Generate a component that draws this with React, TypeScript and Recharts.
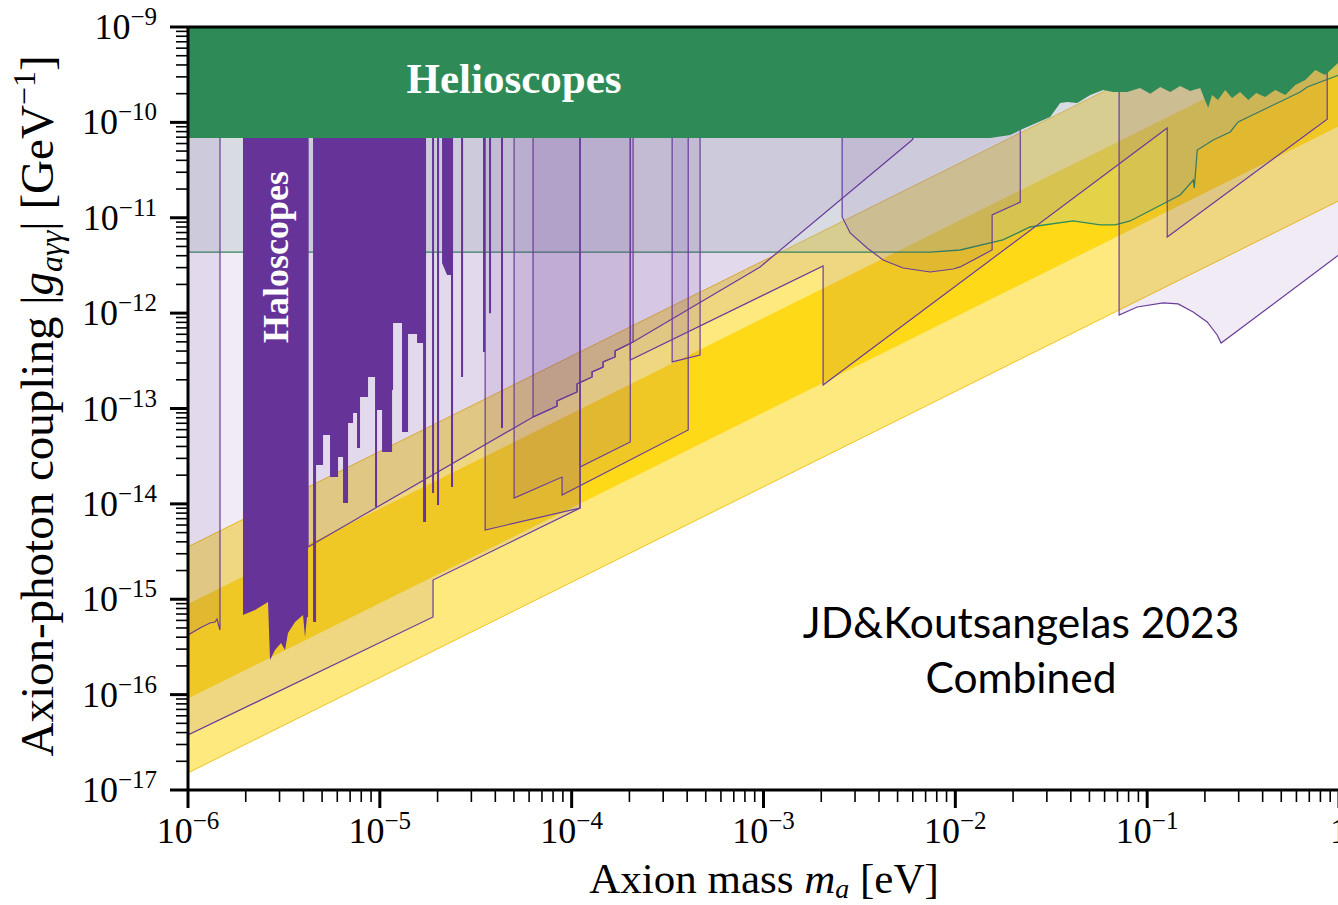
import React from 'react';
import { ComposedChart, Area, XAxis, YAxis, ReferenceLine } from 'recharts';

// axion mass m [eV] / coupling g [GeV^-1]
const TOP = 1e-9;
const GAP = 8e-11; // just under the helioscope fill, hidden

// QCD axion bands, straight lines of slope 1 in log-log (ends at 1e-6 eV and 1 eV)
const bandMass = [1e-6, 1];
const outerBandLow = [1.51e-17, 1.51e-11];
const outerBandHigh = [3.55e-15, 3.55e-9];
const innerBandLow = [9.1e-17, 9.1e-11];
const innerBandHigh = [8.9e-16, 8.9e-10];

// helioscope lower edge
const helioscopeEdge: [number, number][] = [
    [1e-6, 6.85e-11], [1.52e-2, 6.85e-11], [1.93e-2, 7.38e-11], [2.18e-2, 8.3e-11],
    [3.12e-2, 1.14e-10], [3.52e-2, 1.6e-10], [3.83e-2, 1.64e-10], [4.32e-2, 1.6e-10],
    [5.05e-2, 1.94e-10], [5.9e-2, 2.18e-10], [6.65e-2, 2.08e-10], [7.87e-2, 2.08e-10],
    [9.18e-2, 2.29e-10], [0.1038, 1.99e-10], [0.117, 2.35e-10], [0.132, 2.08e-10],
    [0.1486, 2.4e-10], [0.1675, 2.13e-10], [0.189, 2.29e-10], [0.2, 1.72e-10],
    [0.208, 1.42e-10], [0.218, 1.94e-10], [0.234, 1.72e-10], [0.255, 2.18e-10],
    [0.277, 1.8e-10], [0.305, 2.08e-10], [0.337, 1.72e-10], [0.37, 2.03e-10],
    [0.412, 1.85e-10], [0.465, 2.18e-10], [0.525, 1.94e-10], [0.592, 2.47e-10],
    [0.667, 2.78e-10], [0.752, 3.54e-10], [0.847, 3.14e-10], [1, 4.3e-10],
];

// stellar (green line) bound, grey above it
const stellarEdge: [number, number][] = [
    [1e-6, 4.37e-12], [7.4e-3, 4.37e-12], [1.06e-2, 4.59e-12], [1.77e-2, 5.85e-12],
    [2.45e-2, 8.0e-12], [4.11e-2, 9.25e-12], [5.69e-2, 8.4e-12], [6.81e-2, 8.4e-12],
    [8.15e-2, 9.25e-12], [0.1486, 1.73e-11], [0.174, 2.49e-11], [0.176, 2.05e-11],
    [0.1825, 5.13e-11], [0.221, 6.53e-11], [0.271, 7.93e-11], [0.298, 1.01e-10],
    [0.628, 2.08e-10], [0.683, 2.35e-10], [1, 3.14e-10],
];

// haloscope exclusions (dark purple), lower edge
const haloscopeEdge: [number, number][] = [
    [1.935e-6, GAP], [1.935e-6, 6.84e-16], [2.235e-6, 7.71e-16], [2.613e-6, 9.35e-16],
    [2.676e-6, 2.31e-16], [2.842e-6, 2.94e-16], [3.054e-6, 3.48e-16], [3.204e-6, 2.94e-16],
    [3.322e-6, 4.43e-16], [3.613e-6, 5.77e-16], [3.977e-6, 6.84e-16], [4.074e-6, 4.02e-16],
    [4.173e-6, 6.52e-16], [4.225e-6, 6.52e-16], [4.225e-6, GAP],
    [4.486e-6, GAP], [4.486e-6, 5.77e-16], [4.651e-6, 5.77e-16], [4.651e-6, 2.56e-14],
    [5.058e-6, 2.56e-14], [5.058e-6, 5.27e-14], [5.5e-6, 5.27e-14], [5.5e-6, 1.91e-14],
    [6.056e-6, 1.91e-14], [6.056e-6, 3.1e-14], [6.43e-6, 3.1e-14], [6.43e-6, 1.02e-14],
    [6.828e-6, 1.02e-14], [6.828e-6, 7.05e-14], [7.25e-6, 7.05e-14], [7.25e-6, 8.97e-14],
    [7.606e-6, 8.97e-14], [7.606e-6, 3.85e-14], [7.883e-6, 3.85e-14], [7.883e-6, 1.32e-13],
    [8.679e-6, 1.32e-13], [8.679e-6, 2.14e-13], [9.441e-6, 2.14e-13], [9.441e-6, 9.27e-15],
    [9.67e-6, 9.27e-15], [9.67e-6, 9.64e-14], [1.027e-5, 9.64e-14], [1.027e-5, 3.5e-14],
    [1.158e-5, 3.5e-14], [1.158e-5, 1.56e-13], [1.172e-5, 1.56e-13], [1.172e-5, 7.87e-13],
    [1.305e-5, 7.87e-13], [1.305e-5, 5.68e-14], [1.403e-5, 5.68e-14], [1.403e-5, 6.04e-13],
    [1.563e-5, 6.04e-13], [1.563e-5, 4.86e-13], [1.68e-5, 4.86e-13], [1.68e-5, 6.46e-15],
    [1.741e-5, 6.46e-15], [1.741e-5, GAP],
    [1.872e-5, GAP], [1.872e-5, 1.3e-14], [1.917e-5, 1.3e-14], [1.917e-5, GAP],
    [1.987e-5, GAP], [1.987e-5, 9.73e-15], [2.036e-5, 9.73e-15], [2.036e-5, GAP],
    [2.11e-5, GAP], [2.11e-5, 3.36e-12], [2.241e-5, 2.51e-12], [2.35e-5, 2.51e-12],
    [2.35e-5, 1.5e-14], [2.408e-5, 1.5e-14], [2.408e-5, GAP],
    [2.651e-5, GAP], [2.651e-5, 2.14e-13], [2.716e-5, 2.14e-13], [2.716e-5, GAP],
    [3.451e-5, GAP], [3.451e-5, 3.91e-13], [3.54e-5, 3.91e-13], [3.54e-5, GAP],
    [3.709e-5, GAP], [3.709e-5, 1e-12], [3.8e-5, 1e-12], [3.8e-5, GAP],
    [4.283e-5, GAP], [4.283e-5, 6.25e-14], [4.387e-5, 6.25e-14], [4.387e-5, GAP],
];

// projected sensitivities (light purple, outlined), lower edges
const projStrip: [number, number][] = [
    [1e-6, 4.22e-16], [1.155e-6, 4.99e-16], [1.302e-6, 5.64e-16], [1.383e-6, 5.77e-16],
    [1.416e-6, 6.21e-16], [1.434e-6, 5.64e-16], [1.468e-6, 4.76e-16], [1.468e-6, GAP],
];
const projLong: [number, number][] = [
    [1e-6, 3.77e-17], [1.894e-5, 6.52e-16], [1.894e-5, 1.59e-15], [1.106e-4, 9.05e-15], [1.106e-4, GAP],
];
const stairs: [number, number][] = [
    [6.29e-5, 8.15e-14], [8.39e-5, 1.06e-13], [8.39e-5, 1.2e-13], [1.067e-4, 1.49e-13],
    [1.067e-4, 1.81e-13], [1.278e-4, 2.14e-13], [1.278e-4, 2.42e-13], [1.458e-4, 2.72e-13],
    [1.458e-4, 3.08e-13], [1.684e-4, 3.47e-13], [1.684e-4, 4.01e-13], [2.09e-4, 4.98e-13],
];
const projWide: [number, number][] = [
    [4.225e-6, GAP], [4.225e-6, 3.53e-15], ...stairs,
    [9.6e-4, 3.05e-12], [5.95e-3, 6.53e-11], [6.3e-3, GAP],
];
const projStairBox: [number, number][] = [[6.29e-5, GAP], ...stairs, [2.09e-4, GAP]];
const projBoxE: [number, number][] = [
    [5.01e-5, GAP], [5.01e-5, 1.15e-14], [8.91e-5, 1.91e-14], [8.91e-5, 1.24e-14], [4.05e-4, 5.95e-14], [4.05e-4, GAP],
];
const projBoxF: [number, number][] = [[3.54e-5, GAP], [3.54e-5, 5.32e-15], [1.106e-4, 9.05e-15], [1.106e-4, GAP]];
const projBoxG: [number, number][] = [[1.106e-4, GAP], [1.106e-4, 2.44e-14], [2.02e-4, 4.46e-14], [2.02e-4, GAP]];
const projBoxI: [number, number][] = [[3.34e-4, GAP], [3.34e-4, 3.08e-13], [4.67e-4, 3.64e-13], [4.67e-4, GAP]];
const projSaw: [number, number][] = [
    [2.02e-4, GAP], [2.02e-4, 3.23e-13], [2.045e-3, 3.12e-12], [2.045e-3, 1.76e-13],
    [0.1272, 8.73e-11], [0.1272, 6.28e-12], [0.868, 1.08e-10], [0.868, 3.5e-10],
];
const projArc: [number, number][] = [
    [2.57e-3, GAP], [2.57e-3, 1.02e-11], [2.83e-3, 6.92e-12], [3.47e-3, 4.82e-12], [4.2e-3, 3.61e-12],
    [5.34e-3, 2.97e-12], [7.39e-3, 2.7e-12], [9.74e-3, 2.9e-12], [1.06e-2, 3.05e-12],
    [1.555e-2, 4.59e-12], [1.555e-2, 1.07e-11], [2.18e-2, 1.46e-11], [2.18e-2, 1.2e-10],
];
const projHigh: [number, number][] = [
    [7.14e-2, 3e-10], [7.14e-2, 9.55e-13], [8.87e-2, 1.16e-12], [0.1211, 1.28e-12], [0.145, 1.25e-12],
    [0.1737, 1.03e-12], [0.2055, 8.07e-13], [0.2317, 5.9e-13], [0.243, 4.86e-13], [1, 4.1e-12],
];

const projections = [projLong, projStrip, projWide, projStairBox, projBoxF, projBoxE, projBoxG, projBoxI, projSaw, projArc, projHigh];

const xDecades = [-6, -5, -4, -3, -2, -1];
const yDecades = [-17, -16, -15, -14, -13, -12, -11, -10];
const minorSteps = [1, 2, 3, 4, 5, 6, 7, 8, 9];
const xTicks = [...xDecades.flatMap((d) => minorSteps.map((k) => k * 10 ** d)), 1];
const yTicks = [...yDecades.flatMap((d) => minorSteps.map((k) => k * 10 ** d)), 1e-9];

const band = (lo: number[], hi: number[]) => bandMass.map((m, i) => ({ m, g: [lo[i], hi[i]] }));
const toTop = (edge: [number, number][]) => edge.map(([m, g]) => ({ m, g: [g, TOP] }));

const SERIF = '"Liberation Serif", "Times New Roman", serif';
const PURPLE = '#6a3d9a';

function XTick(props: any) {
    const { x, y, payload } = props;
    const e = Math.round(Math.log10(payload.value));
    const major = Math.abs(Math.log10(payload.value) - e) < 1e-6;
    return (
        <g>
            <line x1={x} x2={x} y1={y} y2={y + (major ? 18 : 12)} stroke="#000" strokeWidth={major ? 3 : 1.6} />
            {major && (
                <text x={x} y={y + 53} textAnchor="middle" fontFamily={SERIF} fontSize={36} fill="#000">
                    {e === 0 ? '1' : (
                        <>
                            10<tspan dy={-14} fontSize={25}>{'\u2212' + -e}</tspan>
                        </>
                    )}
                </text>
            )}
        </g>
    );
}

function YTick(props: any) {
    const { x, y, payload } = props;
    const e = Math.round(Math.log10(payload.value));
    const major = Math.abs(Math.log10(payload.value) - e) < 1e-6;
    return (
        <g>
            <line x1={x - (major ? 18 : 12)} x2={x} y1={y} y2={y} stroke="#000" strokeWidth={major ? 3 : 1.6} />
            {major && (
                <text x={x - 31} y={y + 12} textAnchor="end" fontFamily={SERIF} fontSize={36} fill="#000">
                    10<tspan dy={-14} fontSize={25}>{'\u2212' + -e}</tspan>
                </text>
            )}
        </g>
    );
}

export default function App() {
    return (
        <div style={{ position: 'absolute', left: 0, top: 0, width: 1338, height: 905, overflow: 'hidden', background: '#fff' }}>
            <ComposedChart width={1400} height={905} margin={{ top: 27, right: 61, bottom: 0, left: 0 }}>
                <XAxis
                    dataKey="m"
                    type="number"
                    scale="log"
                    domain={[1e-6, 1]}
                    allowDataOverflow
                    ticks={xTicks}
                    interval={0}
                    tick={<XTick />}
                    tickLine={false}
                    tickSize={0}
                    tickMargin={0}
                    height={115}
                    axisLine={{ stroke: '#000', strokeWidth: 3 }}
                />
                <YAxis
                    type="number"
                    scale="log"
                    domain={[1e-17, 1e-9]}
                    allowDataOverflow
                    ticks={yTicks}
                    interval={0}
                    tick={<YTick />}
                    tickLine={false}
                    tickSize={0}
                    tickMargin={0}
                    width={188}
                    axisLine={{ stroke: '#000', strokeWidth: 3 }}
                />
                <Area data={band(outerBandLow, outerBandHigh)} dataKey="g" type="linear" fill="#fee97f" fillOpacity={1} stroke="#f2c31a" strokeWidth={1} isAnimationActive={false} dot={false} activeDot={false} />
                <Area data={band(innerBandLow, innerBandHigh)} dataKey="g" type="linear" fill="#fed918" fillOpacity={1} stroke="none" isAnimationActive={false} dot={false} activeDot={false} />
                <Area data={toTop(stellarEdge)} dataKey="g" type="linear" fill="#a9c8bb" fillOpacity={0.3} stroke="#2e8b57" strokeWidth={1.3} isAnimationActive={false} dot={false} activeDot={false} />
                {projections.map((edge, i) => (
                    <Area key={i} data={toTop(edge)} dataKey="g" type="linear" fill={PURPLE} fillOpacity={0.1} stroke={PURPLE} strokeWidth={1.2} isAnimationActive={false} dot={false} activeDot={false} />
                ))}
                <Area data={toTop(haloscopeEdge)} dataKey="g" type="linear" fill="#663399" fillOpacity={1} stroke="none" isAnimationActive={false} dot={false} activeDot={false} />
                <Area data={toTop(helioscopeEdge)} dataKey="g" type="linear" fill="#2e8b57" fillOpacity={1} stroke="none" isAnimationActive={false} dot={false} activeDot={false} />
                <ReferenceLine y={TOP} stroke="#000" strokeWidth={3} />
            </ComposedChart>
            <svg width={1338} height={905} style={{ position: 'absolute', left: 0, top: 0, pointerEvents: 'none' }}>
                <text x={514} y={93} textAnchor="middle" fontFamily={SERIF} fontWeight="bold" fontSize={43} fill="#fff">Helioscopes</text>
                <text transform="translate(288,257) rotate(-90)" textAnchor="middle" fontFamily={SERIF} fontWeight="bold" fontSize={36} fill="#fff">Haloscopes</text>
                <text x={1021} y={638} textAnchor="middle" fontFamily="Lato, sans-serif" fontSize={42.5} fill="#000">{'JD&Koutsangelas 2023'}</text>
                <text x={1021} y={693} textAnchor="middle" fontFamily="Lato, sans-serif" fontSize={42.5} fill="#000">Combined</text>
                <text x={764} y={893} textAnchor="middle" fontFamily={SERIF} fontSize={43} fill="#000">
                    Axion mass <tspan fontStyle="italic">m</tspan>
                    <tspan fontStyle="italic" fontSize={28} dy={5}>a</tspan>
                    <tspan dy={-5}> [eV]</tspan>
                </text>
                <text transform="translate(53,406) rotate(-90)" textAnchor="middle" fontFamily={SERIF} fontSize={47} fill="#000">
                    {'Axion-photon coupling |'}
                    <tspan fontStyle="italic">g</tspan>
                    <tspan fontStyle="italic" fontSize={32} dy={9}>{'a\u03b3\u03b3'}</tspan>
                    <tspan dy={-9}>{'| [GeV'}</tspan>
                    <tspan fontSize={32} dy={-18}>{'\u22121'}</tspan>
                    <tspan dy={18}>]</tspan>
                </text>
            </svg>
        </div>
    );
}
